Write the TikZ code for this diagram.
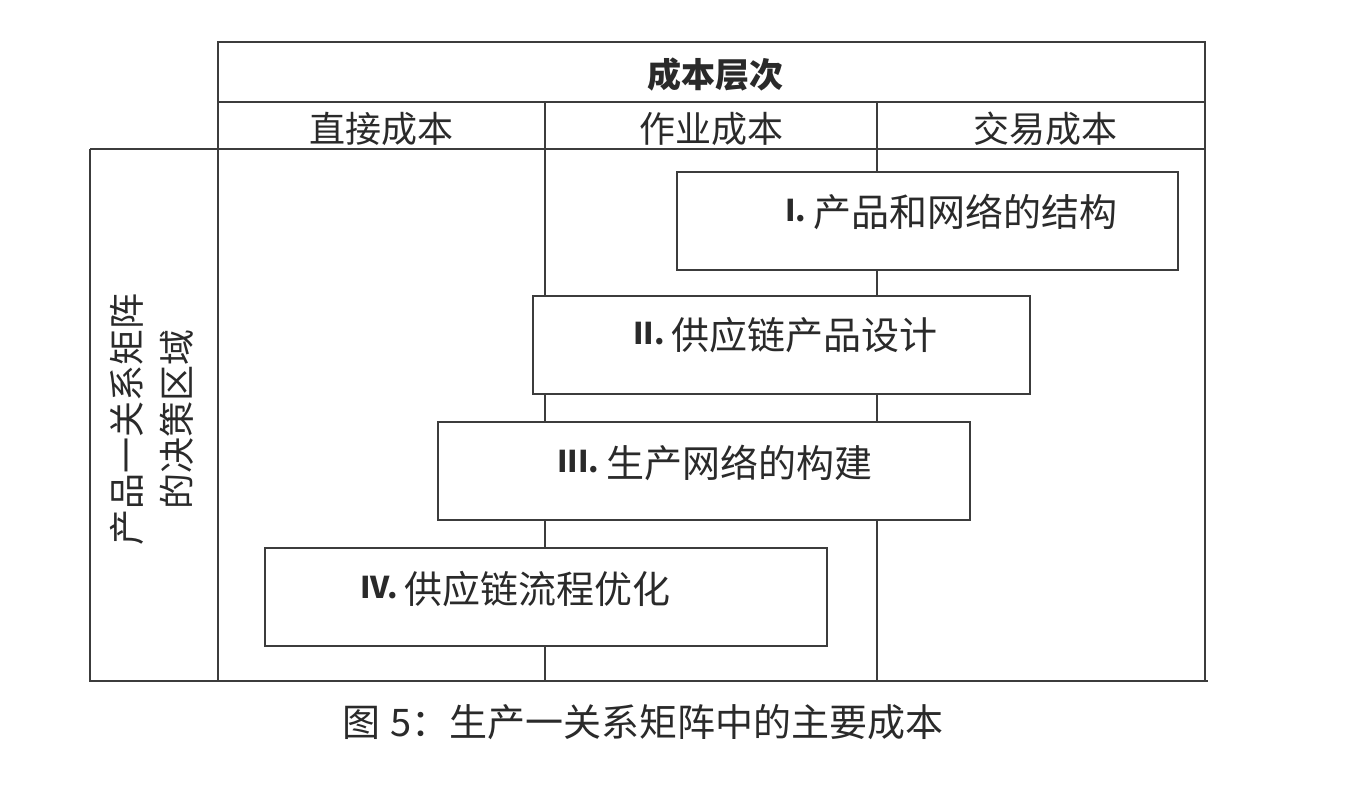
\documentclass[tikz,border=0pt]{standalone}
\usepackage{fontspec}
\setmainfont{Noto Sans CJK SC}
\definecolor{inkline}{HTML}{3C3C3C}
\definecolor{inktext}{HTML}{2A2A2A}
\newcommand{\rnum}[1]{{\fontsize{30}{30}\selectfont\bfseries\raisebox{5pt}{#1}}\hspace{7pt}}
\tikzset{
  frameline/.style={draw=inkline, line width=2pt},
  stagebox/.style={draw=inkline, line width=2pt, fill=white, inner sep=0pt},
  boxtext/.style={text=inktext, font=\fontsize{38}{38}\selectfont, anchor=west, inner sep=0pt},
  headtext/.style={text=inktext, font=\fontsize{36}{36}\selectfont, inner sep=0pt},
}
\begin{document}
\begin{tikzpicture}[x=1pt,y=-1pt]
\useasboundingbox (0,0) rectangle (1360,800);
\fill[white] (0,0) rectangle (1360,800);
% frame
\draw[frameline] (218,681) -- (218,42) -- (1205,42) -- (1205,681);
\draw[frameline] (218,102) -- (1205,102);
\draw[frameline] (90,149) -- (1205,149);
\draw[frameline] (90,149) -- (90,681) -- (1208,681);
\draw[frameline] (545,102) -- (545,681);
\draw[frameline] (877,102) -- (877,681);
% headers
\node[headtext, font=\fontsize{34}{34}\selectfont\bfseries] (title) at (715,75) {成本层次};
\node[headtext] (direct) at (381,129) {直接成本};
\node[headtext] (activity) at (711,129) {作业成本};
\node[headtext] (trans) at (1045,129) {交易成本};
% left label
\node[text=inktext, font=\fontsize{36}{50}\selectfont, rotate=90, align=center, inner sep=0pt] (region) at (152,419) {产品一关系矩阵\\的决策区域};
% stage boxes
\node[stagebox, minimum width=501pt, minimum height=98pt] (b1) at (927.5,221) {};
\node[stagebox, minimum width=497pt, minimum height=98pt] (b2) at (781.5,345) {};
\node[stagebox, minimum width=532pt, minimum height=98pt] (b3) at (704,471) {};
\node[stagebox, minimum width=562pt, minimum height=98pt] (b4) at (546,597) {};
\node[boxtext] (t1) at (785,212) {\rnum{I.}产品和网络的结构};
\node[boxtext] (t2) at (633,335) {\rnum{II.}供应链产品设计};
\node[boxtext] (t3) at (557,463) {\rnum{III.}生产网络的构建};
\node[boxtext] (t4) at (360,589) {\rnum{IV.}供应链流程优化};
% caption
\node[text=inktext, font=\fontsize{38}{38}\selectfont, inner sep=0pt] (caption) at (643,722) {图\hspace{10pt}5：生产一关系矩阵中的主要成本};
\end{tikzpicture}
\end{document}
